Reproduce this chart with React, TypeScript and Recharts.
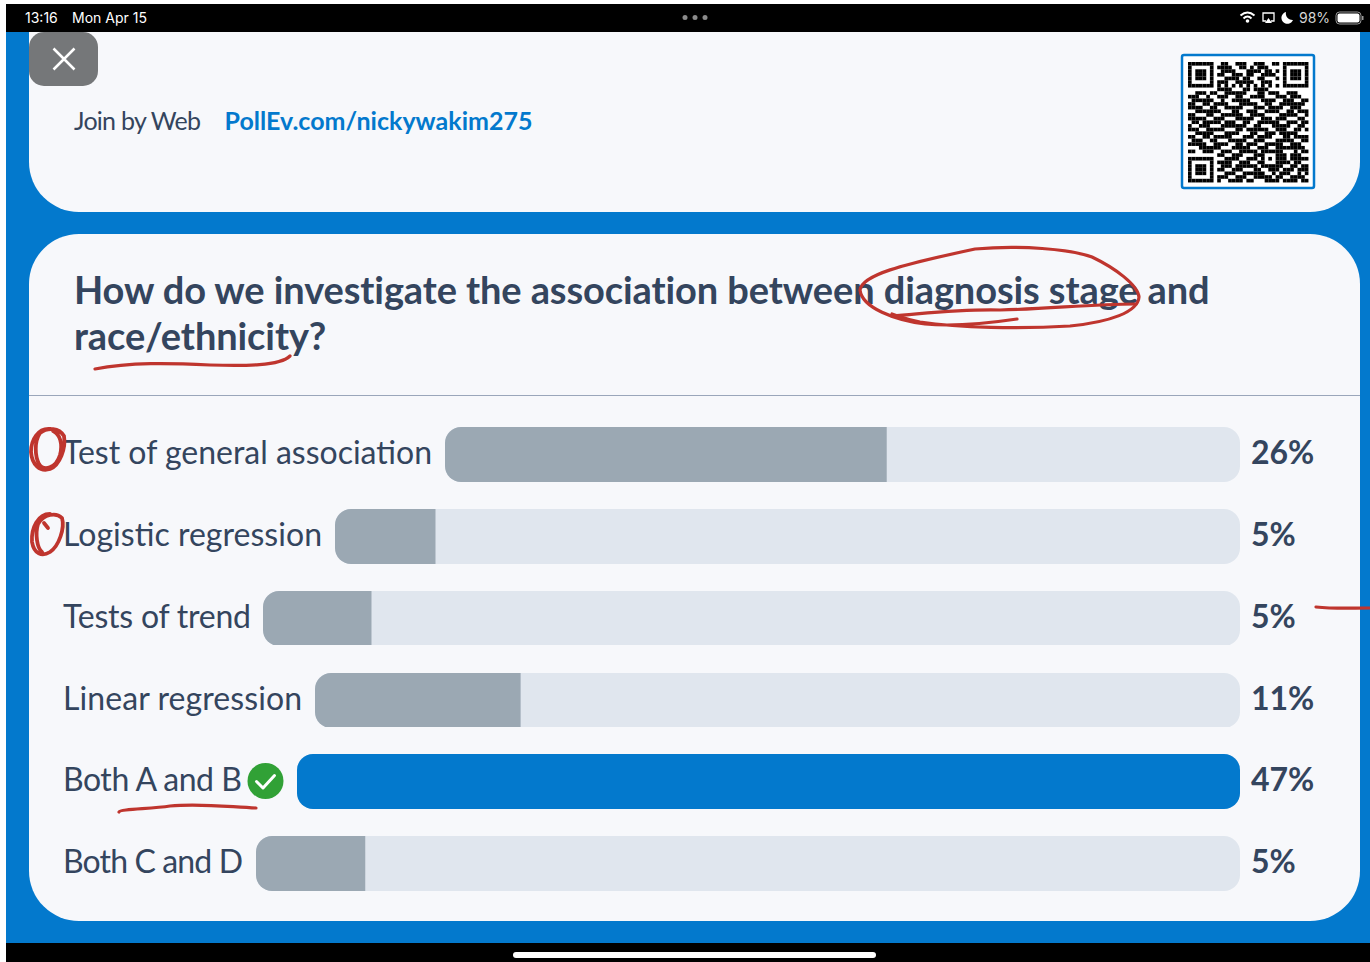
import { BarChart, Bar, XAxis, YAxis } from "recharts"

const categories = [
  "Test of general association",
  "Logistic regression",
  "Tests of trend",
  "Linear regression",
  "Both A and B",
  "Both C and D",
]
// share of responses, the track is scaled to the biggest one
const shares = [26.32, 5.26, 5.26, 10.53, 47.37, 5.26]
const correctOption = "Both A and B"

const questionLines = [
  "How do we investigate the association between diagnosis stage and",
  "race/ethnicity?",
]

// row layout: track start depends on the label width in the original
const trackLeft = [445, 335, 263, 315, 297, 256]
const rowTop = [427, 509, 590.5, 672.5, 754, 836]
const labelWidth = [369, 259, 188, 239, 179, 180]

const QR = [
  "111111100110011100111001101111111",
  "100000101111001101011100001000001",
  "101110100111100011110110101011101",
  "101110101100111011001111001011101",
  "101110100011110110011000101011101",
  "100000101110011111001110001000001",
  "111111101010101010101010101111111",
  "000000001111000110111100000000000",
  "001110110011111100011011100111000",
  "111001001110011001111000111011100",
  "011111100100111110001111001110011",
  "110011011110001111100110011111110",
  "111100110011111000111011110011100",
  "001111111000110011100111100110111",
  "110001100111111001111000011111001",
  "111110011100011111001110111000110",
  "011011111011100110011111100111011",
  "100111000111111100110001111100110",
  "111001111100011011111100111001101",
  "001111100011110001100111011111000",
  "110011011111000111011110001101111",
  "011100110001111100111000111110011",
  "111110011110011011100111110011100",
  "000111111000111110011100111111110",
  "110011100111001111101111110001011",
  "000000001100111000111000111011100",
  "111111100011110011101010111011111",
  "100000101111001110011000111101100",
  "101110100111011111101111110011011",
  "101110101100111000110011101110111",
  "101110100011100111111001011100101",
  "100000101110011100111110110011110",
  "111111101001111011000111101111011",
]

const FONT = "Lato, 'Noto Sans', sans-serif"
const TEXT = "#34455e"
const BLUE = "#0379cd"
const RED = "#bf352e"
const CARD = "#f7f8fb"

function LabelTick({ y, payload, index }: any) {
  return (
    <text
      x={1}
      y={y + 10}
      fontFamily={FONT}
      fontSize={32}
      fill={TEXT}
      textLength={labelWidth[categories.indexOf(payload.value)]}
      lengthAdjust="spacing"
    >
      {payload.value}
    </text>
  )
}

function PctTick({ x, y, payload }: any) {
  return (
    <text x={x + 11} y={y + 10} fontFamily={FONT} fontSize={32} fontWeight={700} fill={TEXT}>
      {payload.value}
    </text>
  )
}

function PollRow({ index }: { index: number }) {
  const name = categories[index]
  const correct = name === correctOption
  const data = [{ name, share: shares[index], pct: `${Math.round(shares[index])}%` }]
  return (
    <div style={{ position: "absolute", left: 62, top: rowTop[index] }}>
      <BarChart
        width={1278}
        height={54.5}
        data={data}
        layout="vertical"
        margin={{ top: 0, right: 0, bottom: 0, left: 0 }}
        barCategoryGap={0}
      >
        <XAxis type="number" hide domain={[0, Math.max(...shares)]} />
        <YAxis
          yAxisId="name"
          type="category"
          dataKey="name"
          width={trackLeft[index] - 62}
          axisLine={false}
          tickLine={false}
          tick={<LabelTick />}
        />
        <YAxis
          yAxisId="pct"
          orientation="right"
          type="category"
          dataKey="pct"
          width={100}
          axisLine={false}
          tickLine={false}
          tickSize={0}
          tickMargin={0}
          tick={<PctTick />}
        />
        <Bar
          yAxisId="name"
          dataKey="share"
          fill={correct ? BLUE : "#9ba8b3"}
          radius={correct ? 16 : [16, 0, 0, 16]}
          background={{ fill: "#e0e6ee", radius: 16 } as any}
          isAnimationActive={false}
        />
      </BarChart>
    </div>
  )
}

function StatusBar() {
  return (
    <svg width={1370} height={962} style={{ position: "absolute", left: 0, top: 0 }}>
      <rect x={6} y={4} width={1364} height={28} fill="#000" />
      <text x={25} y={22.5} fontFamily="Inter, sans-serif" fontSize={14} fill="#fff">13:16</text>
      <text x={72} y={22.5} fontFamily="Inter, sans-serif" fontSize={14} fill="#fff">Mon Apr 15</text>
      <circle cx={685} cy={17.5} r={2.5} fill="#8a8a8a" />
      <circle cx={695} cy={17.5} r={2.5} fill="#8a8a8a" />
      <circle cx={705} cy={17.5} r={2.5} fill="#8a8a8a" />
      {/* wifi */}
      <path d="M1240.5 15.5 Q1247.5 9.5 1254.5 15.5 M1243.5 18.5 Q1247.5 14.5 1251.5 18.5" stroke="#fff" strokeWidth={2} fill="none" />
      <circle cx={1247.5} cy={21} r={1.8} fill="#fff" />
      {/* airplay */}
      <path d="M1266 21 H1263 V13 H1274 V21 H1271" stroke="#fff" strokeWidth={1.3} fill="none" />
      <path d="M1265 23 L1268.5 18 L1272 23 Z" fill="#fff" />
      {/* moon */}
      <path d="M1286 12 A6 6 0 1 0 1293 20 A6.5 6.5 0 0 1 1286 12 Z" fill="#fff" />
      <text x={1299} y={22.5} fontFamily="Inter, sans-serif" fontSize={14} fill="#d5d5d5">98%</text>
      <rect x={1336} y={12} width={25} height={12} rx={3.5} fill="none" stroke="#9a9a9a" strokeWidth={1} />
      <rect x={1337.5} y={13.5} width={22} height={9} rx={2} fill="#fff" />
      <rect x={1362} y={16} width={1.5} height={4} fill="#9a9a9a" />
    </svg>
  )
}

function JoinCard() {
  return (
    <svg width={1370} height={240} style={{ position: "absolute", left: 0, top: 0 }}>
      <path d="M29 32 H1360 V162 A50 50 0 0 1 1310 212 H79 A50 50 0 0 1 29 162 Z" fill={CARD} />
      <rect x={29} y={32} width={69} height={54} rx={15} fill="#757779" />
      <path d="M53.5 48.5 L74.5 69.5 M74.5 48.5 L53.5 69.5" stroke="#fff" strokeWidth={2.5} />
      <text x={74} y={130} fontFamily={FONT} fontSize={25} fill={TEXT} textLength={127} lengthAdjust="spacing">Join by Web</text>
      <text x={224.5} y={130} fontFamily={FONT} fontSize={25} fontWeight={700} fill={BLUE} style={{ letterSpacing: "0.02px" }}>PollEv.com/nickywakim275</text>
      <rect x={1182} y={55} width={132} height={133} rx={2} fill="#fff" stroke={BLUE} strokeWidth={2.5} />
      {QR.map((row, r) =>
        row.split("").map((c, k) =>
          c === "1" ? (
            <rect key={`${r}-${k}`} x={1188 + k * 3.65} y={62 + r * 3.65} width={3.65} height={3.65} fill="#000" />
          ) : null
        )
      )}
    </svg>
  )
}

function Annotations() {
  const stroke = { stroke: RED, strokeWidth: 3.2, fill: "none", strokeLinecap: "round" as const, strokeLinejoin: "round" as const }
  const thick = { ...stroke, strokeWidth: 3.8 }
  return (
    <svg width={1370} height={962} style={{ position: "absolute", left: 0, top: 0, pointerEvents: "none" }}>
      <path d="M1017 319 C990 323 955 327 925 324 C895 320 862 308 860 290 C862 275 900 265 975 249 C1020 245 1070 249 1092 257 C1115 268 1138 285 1139 297 C1138 312 1110 322 1070 326 C1020 329 960 328 920 322 C905 319 898 316 892 314" {...stroke} />
      <path d="M892 316 C930 313 960 309 1000 310 C1050 309 1090 304 1136 304" {...stroke} />
      <path d="M95 369 C130 362 170 363 210 365 C245 366 280 366 290 356" {...stroke} />
      <path d="M50 429 C38 428 31 440 31 452 C32 465 40 472 50 469 C60 465 66 448 64 436 C59 428 48 427 40 433 C34 442 35 456 39 464 C44 472 56 468 60 455 C63 444 60 434 53 431" {...thick} />
      <path d="M50 514 C38 514 31 528 32 542 C34 554 42 557 50 552 C59 546 65 528 62 518 C56 512 44 514 38 524 C35 534 37 548 42 552 M44 523 L48 528" {...thick} />
      <path d="M1316 607 C1335 609 1350 608 1370 608" {...stroke} />
      <path d="M119 812 C120 809 150 809 170 806 C200 803 230 807 256 808" {...stroke} />
    </svg>
  )
}

export default function App() {
  return (
    <div style={{ position: "absolute", left: 0, top: 0, width: 1370, height: 962, background: "#fff", overflow: "hidden" }}>
      <div style={{ position: "absolute", left: 6, top: 32, width: 1364, height: 911, background: BLUE }} />
      <div style={{ position: "absolute", left: 6, top: 943, width: 1364, height: 19, background: "#000" }} />
      <div style={{ position: "absolute", left: 513, top: 952, width: 363, height: 6, borderRadius: 3, background: "#fff" }} />
      <div style={{ position: "absolute", left: 29, top: 234, width: 1331, height: 687, borderRadius: 50, background: CARD }} />
      <div style={{ position: "absolute", left: 29, top: 395, width: 1331, height: 1, background: "#9aa6ba" }} />
      <JoinCard />
      <StatusBar />
      <svg width={1370} height={400} style={{ position: "absolute", left: 0, top: 0 }}>
        {questionLines.map((line, i) => (
          <text key={line} x={74} y={304 + i * 46} fontFamily={FONT} fontSize={38} fontWeight={700} fill={TEXT} style={{ letterSpacing: "-0.1px" }}>
            {line}
          </text>
        ))}
      </svg>
      {categories.map((_, i) => (
        <PollRow key={i} index={i} />
      ))}
      <svg width={40} height={40} style={{ position: "absolute", left: 246, top: 761 }}>
        <circle cx={19.5} cy={20} r={18} fill="#31a136" />
        <path d="M10.5 20.5 L17 27 L28.5 14.5" stroke="#fff" strokeWidth={3} fill="none" strokeLinecap="round" strokeLinejoin="round" />
      </svg>
      <Annotations />
    </div>
  )
}
